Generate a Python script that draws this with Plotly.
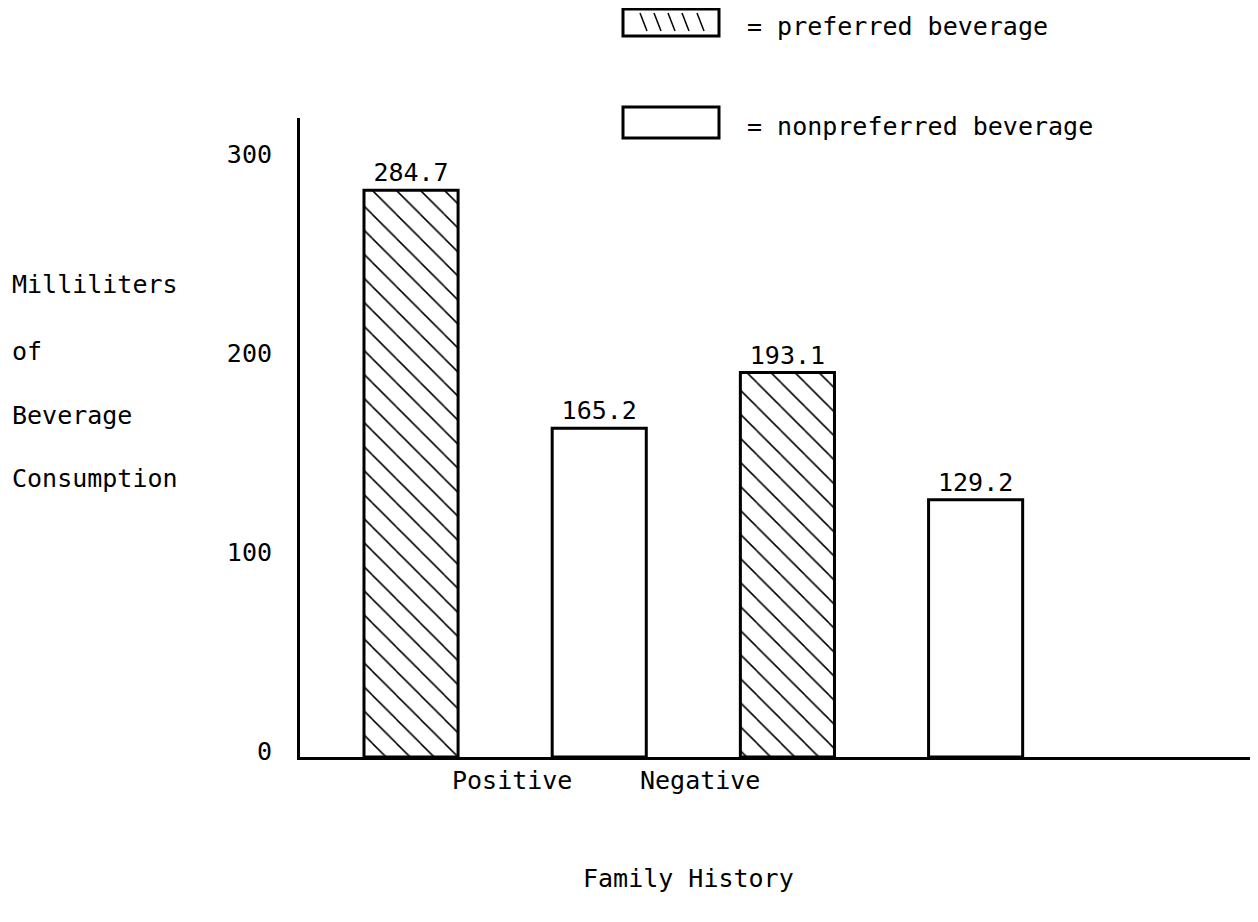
import plotly.graph_objects as go

# ---- data ----
family_history = ["Positive", "Negative"]
preferred = [284.7, 193.1]
nonpreferred = [165.2, 129.2]
series_names = ["= preferred beverage", "= nonpreferred beverage"]
y_ticks = [0, 100, 200, 300]
y_title_lines = ["Milliliters", "of", "Beverage", "Consumption"]
x_title = "Family History"

# ---- layout constants (pixels, page coordinates of the 1258x922 window) ----
OFF = 8                      # default body margin of the page
W, H = 1258 - 2 * OFF, 922 - 2 * OFF
AX_LEFT, AX_RIGHT, AX_TOP, AX_BOTTOM = 300, 1250, 118, 757
ML = AX_LEFT - OFF
MR = (OFF + W) - AX_RIGHT
MT = AX_TOP - OFF
MB = (OFF + H) - AX_BOTTOM
PW, PH = W - ML - MR, H - MT - MB
FONT = "DejaVu Sans Mono, Liberation Mono, monospace"
FS = 25


def px_x(p):
    return (p - AX_LEFT) / PW


def px_y(p):
    return (AX_BOTTOM - p) / PH


fig = go.Figure()
fig.add_trace(go.Bar(
    x=family_history, y=preferred, name=series_names[0],
    text=[f"{v:.1f}" for v in preferred], textposition="outside",
    marker=dict(color="white", line=dict(color="black", width=3),
                pattern=dict(shape="\\", fgcolor="black", bgcolor="white",
                             size=17, solidity=0.09, fillmode="replace")),
    cliponaxis=False, showlegend=False,
))
fig.add_trace(go.Bar(
    x=family_history, y=nonpreferred, name=series_names[1],
    text=[f"{v:.1f}" for v in nonpreferred], textposition="outside",
    marker=dict(color="white", line=dict(color="black", width=3)),
    cliponaxis=False, showlegend=False,
))

fig.update_traces(textfont=dict(family=FONT, size=FS, color="black"))

annotations = []
# y-axis title lines
for txt, yp in zip(y_title_lines, [284, 351, 415, 478]):
    annotations.append(dict(text=txt, xref="paper", yref="paper",
                            x=px_x(10), y=px_y(yp), xanchor="left",
                            yanchor="middle", showarrow=False))
# category labels
for txt, xp in zip(family_history, [512, 700]):
    annotations.append(dict(text=txt, xref="paper", yref="paper",
                            x=px_x(xp), y=px_y(780), xanchor="center",
                            yanchor="middle", showarrow=False))
# x title
annotations.append(dict(text=x_title, xref="paper", yref="paper",
                        x=px_x(688), y=px_y(878), xanchor="center",
                        yanchor="middle", showarrow=False))
# legend texts
for txt, yp in zip(series_names, [27, 127]):
    annotations.append(dict(text=txt, xref="paper", yref="paper",
                            x=px_x(745), y=px_y(yp), xanchor="left",
                            yanchor="middle", showarrow=False))

shapes = []
# legend boxes
for (y0, y1) in [(9, 36), (107, 138)]:
    shapes.append(dict(type="rect", xref="paper", yref="paper",
                       x0=px_x(623), x1=px_x(719), y0=px_y(y1), y1=px_y(y0),
                       line=dict(color="black", width=3), fillcolor="white"))
# hatch strokes in preferred legend key
for xs in [640, 654, 668, 682, 697]:
    shapes.append(dict(type="line", xref="paper", yref="paper",
                       x0=px_x(xs), x1=px_x(xs + 7), y0=px_y(13), y1=px_y(31),
                       line=dict(color="black", width=1.5)))

fig.update_layout(
    width=W, height=H,
    margin=dict(l=ML, r=MR, t=MT, b=MB, pad=0),
    paper_bgcolor="white", plot_bgcolor="white",
    font=dict(family=FONT, size=FS, color="black"),
    barmode="group", bargap=0.0, bargroupgap=0.5,
    annotations=annotations, shapes=shapes,
    xaxis=dict(range=[-0.545, 1.979], showline=True, linecolor="black",
               linewidth=3, showgrid=False, zeroline=False,
               showticklabels=False, ticks=""),
    yaxis=dict(range=[0, 321], tickvals=y_ticks, showline=True,
               linecolor="black", linewidth=3, showgrid=False,
               zeroline=False, ticks="", ticklabelstandoff=20,
               ticklabelshift=-6,
               tickfont=dict(family=FONT, size=FS)),
)

fig.write_html("out.html")
